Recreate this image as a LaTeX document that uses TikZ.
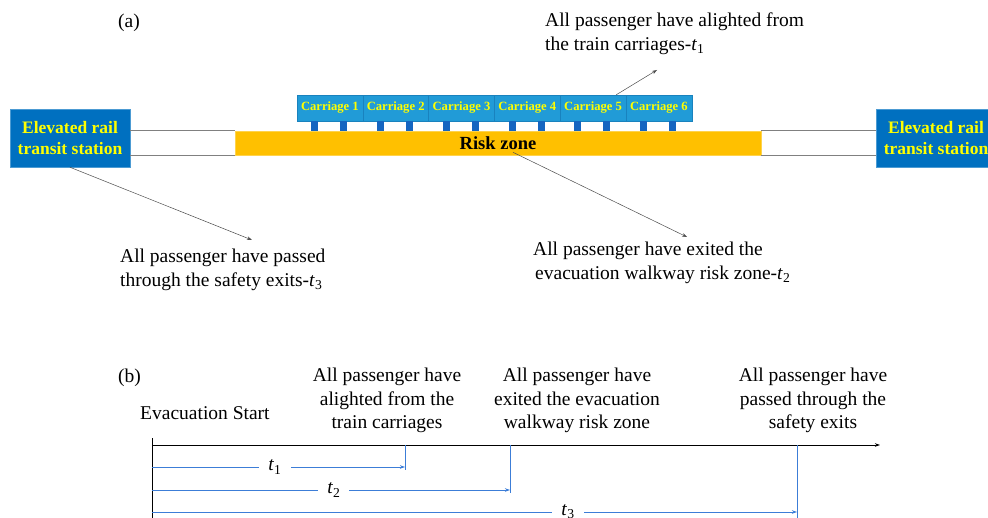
\documentclass[tikz,border=0pt]{standalone}
\usepackage{fontspec}
\setmainfont{Liberation Serif}
\usetikzlibrary{arrows.meta,calc}
\definecolor{stblue}{RGB}{0,112,192}
\definecolor{carblue}{RGB}{33,155,215}
\definecolor{carline}{RGB}{25,130,190}
\definecolor{wheelc}{RGB}{21,101,192}
\definecolor{riskor}{RGB}{255,192,0}
\definecolor{ylw}{RGB}{255,255,0}
\definecolor{tblue}{RGB}{60,125,215}
\begin{document}
\begin{tikzpicture}[x=1pt,y=-1pt,
  station/.style={fill=stblue, draw=stblue!70!white, line width=0.5pt, minimum width=120pt, minimum height=58pt, inner sep=0pt, align=center, text=ylw, font=\fontsize{17.5}{21}\selectfont\bfseries},
  carbox/.style={fill=carblue, draw=carline, line width=0.5pt, minimum width=65.8pt, minimum height=26pt, inner sep=0pt, text=ylw, font=\fontsize{12.6}{14}\selectfont\bfseries},
  wheelbox/.style={fill=wheelc, draw=none, minimum width=7pt, minimum height=10pt, inner sep=0pt},
  riskbox/.style={fill=riskor, draw=riskor!70!white, line width=0.6pt, minimum width=526pt, minimum height=24pt, inner sep=0pt, font=\fontsize{18.5}{21}\selectfont\bfseries},
  track/.style={draw=gray, line width=1.3pt},
  ann/.style={inner sep=0pt, align=left, font=\fontsize{19.5}{23.5}\selectfont},
  lab/.style={inner sep=0pt, align=center, font=\fontsize{19.5}{23.5}\selectfont},
  annarrow/.style={draw=black!70, line width=0.5pt, -{Stealth[length=5pt,width=3.5pt]}},
  axisline/.style={draw=black, line width=0.9pt},
  tline/.style={draw=tblue, line width=0.9pt},
  tarrow/.style={draw=tblue, line width=0.9pt, -{Stealth[length=5pt,width=3.5pt]}},
  tlab/.style={fill=white, inner xsep=9pt, inner ysep=1pt, font=\fontsize{19.5}{23.5}\selectfont}
]
\useasboundingbox (0,0) rectangle (988,518);

% ---------- (a) ----------
\node[ann, anchor=base west] (pa) at (118,28) {(a)};

\node[station] (stL) at (70,138) {Elevated rail\\transit station};
\node[station] (stR) at (936,138) {Elevated rail\\transit station};

\node[riskbox] (risk) at (498,143) {Risk zone};

\draw[track] (stL.east |- risk.north west) -- (risk.north west);
\draw[track] (stL.east |- risk.south west) -- (risk.south west);
\draw[track] (risk.north east) -- (stR.west |- risk.north east);
\draw[track] (risk.south east) -- (stR.west |- risk.south east);

\foreach \i in {1,...,6} {
  \node[carbox] (c\i) at ({297+32.9+(\i-1)*65.8},108) {Carriage \i};
  \node[wheelbox, anchor=north] (w\i-a) at ($(c\i.south west)+(18,0)$) {};
  \node[wheelbox, anchor=north] (w\i-b) at ($(c\i.south west)+(47,0)$) {};
}

\node[ann, anchor=north west] (n1) at (545,12.7) {All passenger have alighted from\\the train carriages-\textit{t}\textsubscript{1}};
\coordinate (a1end) at (657,70);
\draw[annarrow] ($(c5.north west)!0.85!(c5.north east)$) -- (a1end);

\node[ann, anchor=north west] (n3) at (120,249) {All passenger have passed\\through the safety exits-\textit{t}\textsubscript{3}};
\coordinate (a3end) at (252,240);
\draw[annarrow] (stL.south) -- (a3end);

\node[ann, anchor=north west] (n2) at (533,242) {All passenger have exited the\\\hspace{2pt}evacuation walkway risk zone-\textit{t}\textsubscript{2}};
\coordinate (a2end) at (687,237);
\draw[annarrow] ($(risk.south)+(15,-3)$) -- (a2end);

% ---------- (b) ----------
\node[ann, anchor=base west] (pb) at (118,383) {(b)};
\node[ann, anchor=base west] (start) at (140,420) {Evacuation Start};

\node[lab, anchor=north] (L1) at (387,368) {All passenger have\\alighted from the\\train carriages};
\node[lab, anchor=north] (L2) at (577,368) {All passenger have\\exited the evacuation\\walkway risk zone};
\node[lab, anchor=north] (L3) at (813,368) {All passenger have\\passed through the\\safety exits};

\coordinate (O) at (152,445);
\coordinate (Aend) at (880,445);
\coordinate (Vtop) at (152,438);
\coordinate (Vbot) at (152,530);
\draw[axisline] (Vtop) -- (Vbot);
\draw[axisline, -{Stealth[length=5pt,width=3.5pt]}] (O) -- (Aend);

\coordinate (E1) at (405,445);
\coordinate (E2) at (510,445);
\coordinate (E3) at (797,445);
\coordinate (r1) at (0,467);
\coordinate (r2) at (0,490);
\coordinate (r3) at (0,512);
\coordinate (v1) at (0,470);
\coordinate (v2) at (0,493);
\coordinate (v3) at (0,530);

\draw[tline] (E1) -- (E1 |- v1);
\draw[tline] (E2) -- (E2 |- v2);
\draw[tline] (E3) -- (E3 |- v3);

\draw[tarrow] (O |- r1) -- node[tlab, pos=0.486] (t1) {\textit{t}\textsubscript{1}} (E1 |- r1);
\draw[tarrow] (O |- r2) -- node[tlab, pos=0.508] (t2) {\textit{t}\textsubscript{2}} (E2 |- r2);
\draw[tarrow] (O |- r3) -- node[tlab, pos=0.645] (t3) {\textit{t}\textsubscript{3}} (E3 |- r3);
\end{tikzpicture}
\end{document}
